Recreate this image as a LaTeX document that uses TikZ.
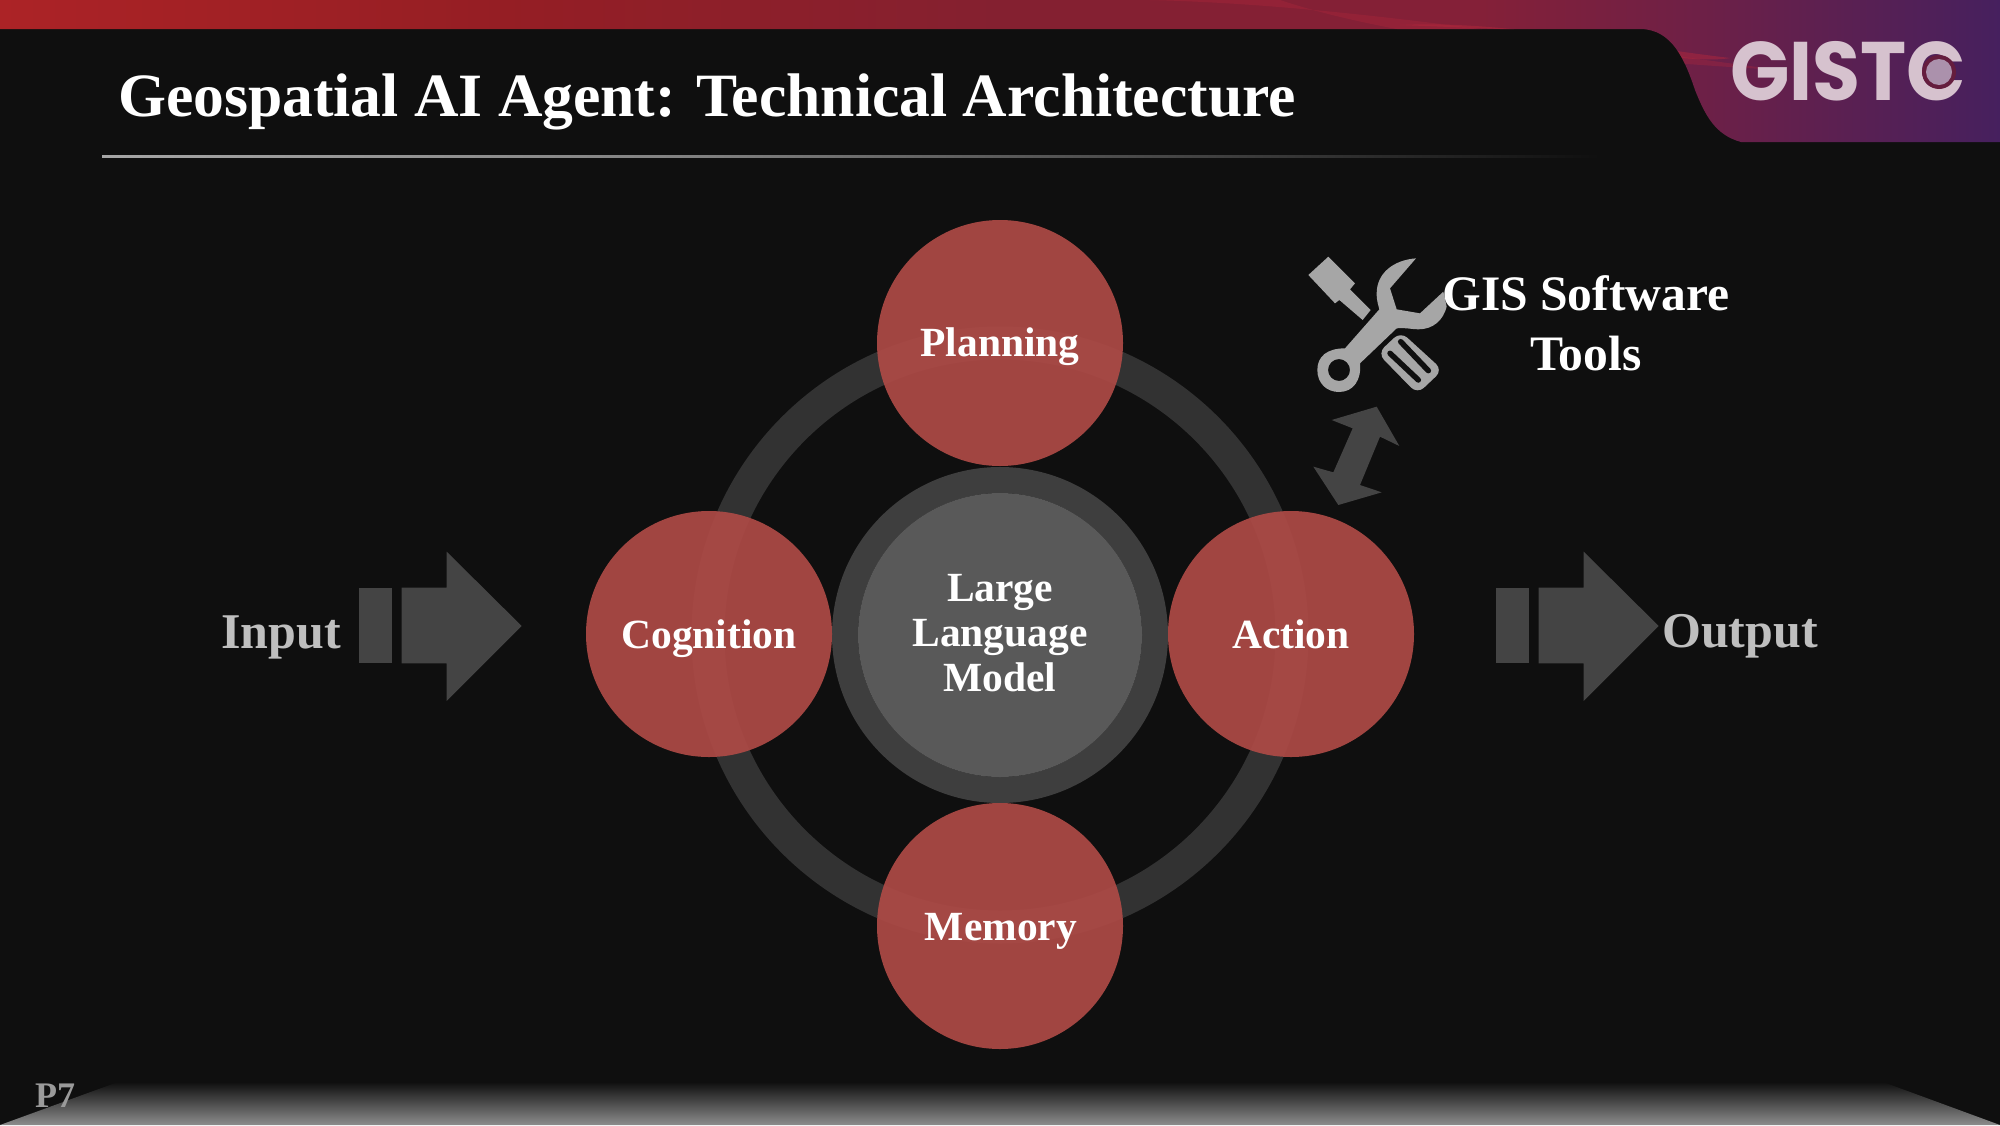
\documentclass[tikz,border=0pt]{standalone}
\usepackage{fontspec}
\setmainfont{Liberation Serif}
\newfontfamily\logofont{Poppins}
\usetikzlibrary{fadings}
\definecolor{bg}{HTML}{0F0F0F}
\definecolor{dk}{HTML}{444444}
\definecolor{ringc}{HTML}{323232}
\definecolor{redc}{HTML}{AE4A46}
\definecolor{iconc}{HTML}{A6A6A6}
\definecolor{grayt}{HTML}{BFBFBF}
\definecolor{logoc}{HTML}{D6C2CE}
\definecolor{b1}{HTML}{AC2326}
\definecolor{b2}{HTML}{951E24}
\definecolor{b3}{HTML}{842030}
\definecolor{b4}{HTML}{842038}
\definecolor{b5}{HTML}{702045}
\definecolor{b6}{HTML}{46205E}
\definecolor{streak}{HTML}{B8283C}
\definecolor{pagec}{HTML}{9A9A9A}
\pgfdeclarehorizontalshading{bandtwo}{100bp}{
 color(0bp)=(b1); color(25bp)=(b1); color(37.5bp)=(b2); color(50bp)=(b3); color(62bp)=(b4); color(67bp)=(b5); color(75bp)=(b6); color(100bp)=(b6)}
\definecolor{f1}{HTML}{8C8C8C}
\pgfdeclareverticalshading{floorshade}{100bp}{
 color(0bp)=(f1); color(25bp)=(f1); color(75bp)=(bg); color(100bp)=(bg)}
\pgfdeclarehorizontalshading{ruleshade}{100bp}{
 color(0bp)=(iconc); color(25bp)=(iconc); color(45bp)=(iconc!75!bg); color(75bp)=(bg); color(100bp)=(bg)}
\tikzset{
 px/.style={x=1pt,y=-1pt},
 lbl/.style={font=\bfseries\fontsize{41.5}{45}\selectfont,text=white,align=center,inner sep=0pt},
 side/.style={font=\bfseries\fontsize{50}{60}\selectfont,text=grayt,inner sep=0pt},
 agent/.style={fill=redc,fill opacity=0.92},
}
\newcommand{\bandpath}{(0,0) -- (2000,0) -- (2000,142) -- (1741,142)
  .. controls (1715,135) and (1705,115) .. (1695,90)
  .. controls (1685,60) and (1672,29) .. (1640,29) -- (0,29) -- cycle}
\begin{document}
\begin{tikzpicture}[px,line join=miter]
\useasboundingbox (0,0) rectangle (2000,1125);
\fill[bg] (0,0) rectangle (2000,1125);
% top band
\shade[shading=bandtwo] \bandpath;
\begin{scope}
 \clip \bandpath;
 \fill[streak,opacity=.3] (1150,0) .. controls (1350,5) and (1550,40) .. (1780,70) .. controls (1600,60) and (1400,40) .. (1280,0) -- cycle;
 \fill[streak,opacity=.45] (1400,25) .. controls (1500,20) and (1620,45) .. (1730,58) .. controls (1700,64) and (1600,50) .. (1500,29) -- cycle;
\end{scope}
% logo
\node[font=\logofont\bfseries\fontsize{83}{83}\selectfont,text=logoc,inner sep=0pt,xscale=.94] (logo) at (1848,71) {GISTC};
\fill[b5!90!black] (1939,72) circle (17);
\fill[logoc!70!b6] (1939,72) circle (13);
% title
\node[anchor=west,font=\bfseries\fontsize{61.6}{66}\selectfont,text=white,inner sep=0pt] (title) at (118,102) {Geospatial AI Agent: Technical Architecture};
\shade[shading=ruleshade] (102,155) rectangle (1600,157.5);
% ring
\draw[ringc,line width=33] (1000,635) circle (292);
\draw[dk!92!black,line width=26] (1000,635) circle (155);
\fill[fill=white!31!bg] (1000,635) circle (142);
\node[lbl] (llm) at (1000,633) {Large\\Language\\Model};
% agents
\fill[agent] (1000,343) circle (123);
\fill[agent] (709,634) circle (123);
\fill[agent] (1291,634) circle (123);
\fill[agent] (1000,926) circle (123);
\node[lbl] (plan) at (1000,347) {Planning};
\node[lbl] (cog) at (709,639) {Cognition};
\node[lbl] (act) at (1291,634) {Action};
\node[lbl] (mem) at (1001,931) {Memory};
% input/output
\node[side,anchor=east] (in) at (341,637) {Input};
\begin{scope}[shift={(340,530)},scale=1/3]
 \fill[dk] (57,173) rectangle (155,400);
 \fill[dk] (185,173) -- (320,173) -- (320,65) -- (545,288) -- (320,513) -- (320,400) -- (185,400) -- cycle;
\end{scope}
\begin{scope}[shift={(1477,530)},scale=1/3]
 \fill[dk] (57,173) rectangle (155,400);
 \fill[dk] (185,173) -- (320,173) -- (320,65) -- (545,288) -- (320,513) -- (320,400) -- (185,400) -- cycle;
\end{scope}
\node[side,anchor=west] (out) at (1662,636) {Output};
% icon
\begin{scope}[shift={(1280,240)},scale=1/3]
 \fill[iconc] (85,105) -- (145,50) -- (225,130) -- (210,148) -- (272,210) -- (248,240) -- (178,180) -- (165,190) -- cycle;
 \fill[iconc,even odd rule] (408,55) .. controls (340,60) and (290,100) .. (290,160)
   .. controls (290,185) and (295,195) .. (298,208) -- (195,325)
   .. controls (140,325) and (112,350) .. (112,390)
   .. controls (112,430) and (140,456) .. (177,456)
   .. controls (220,456) and (245,420) .. (240,370)
   -- (350,265) .. controls (375,262) and (395,268) .. (415,268)
   .. controls (460,268) and (490,240) .. (500,200) -- (490,155) -- (420,220) -- (350,208) -- (330,145) -- cycle
   (177,390) circle (33);
 \fill[iconc,rounded corners=9] (362,275) -- (293,340) -- (412,462) -- (488,390) -- cycle;
 \draw[bg,line width=5.5,line cap=round] (362,305) -- (445,392) (330,340) -- (415,420);
 \fill[dk] (290,500) -- (358,618) -- (300,590) -- (240,735) -- (305,757) -- (175,795) -- (100,680) -- (160,697) -- (218,565) -- (155,540) -- cycle;
\end{scope}
\node[lbl,font=\bfseries\fontsize{49.6}{60}\selectfont] (gis) at (1586,323) {GIS Software\\Tools};
% floor
\shade[shading=floorshade] (0,1125) -- (118,1082) -- (1883,1082) -- (2000,1125) -- cycle;
\node[font=\bfseries\fontsize{36}{40}\selectfont,text=pagec,inner sep=0pt] (page) at (55,1096) {P7};
\end{tikzpicture}
\end{document}
